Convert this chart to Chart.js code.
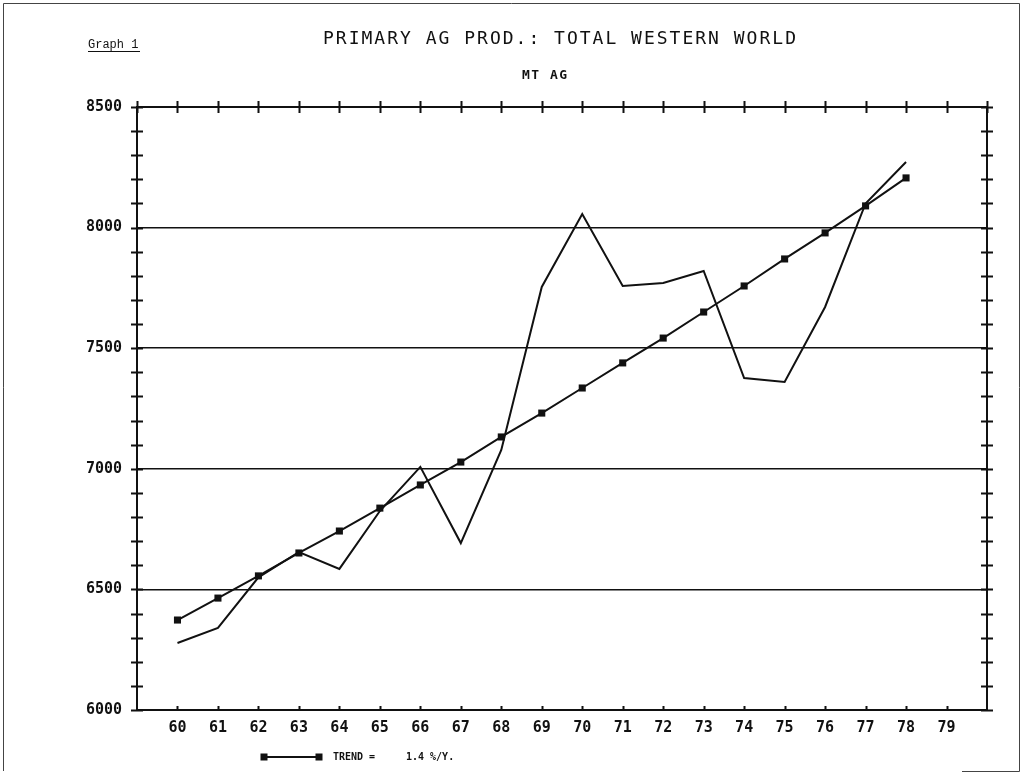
<!DOCTYPE html>
<html>
<head>
<meta charset="utf-8">
<title>Primary Ag Prod.: Total Western World</title>
<script src="https://cdn.jsdelivr.net/npm/chart.js@4/dist/chart.umd.min.js"></script>
<style>
  html, body { margin: 0; padding: 0; background: #ffffff; }
  #wrap { width: 1023px; height: 776px; position: relative; }
  canvas { display: block; }
</style>
</head>
<body>
<div id="wrap"><canvas id="chart" width="1023" height="776"></canvas></div>
<script>
// Years (19xx) and production in metric tonnes of silver
const years = [60, 61, 62, 63, 64, 65, 66, 67, 68, 69, 70, 71, 72, 73, 74, 75, 76, 77, 78];
const production = [6278, 6340, 6550, 6655, 6585, 6825, 7008, 6692, 7078, 7754, 8056, 7758, 7770, 7820, 7376, 7360, 7671, 8100, 8272];
const trend = [6373, 6464, 6556, 6651, 6742, 6837, 6933, 7028, 7132, 7231, 7335, 7439, 7542, 7650, 7758, 7870, 7978, 8090, 8206];
const yearTicks = [60, 61, 62, 63, 64, 65, 66, 67, 68, 69, 70, 71, 72, 73, 74, 75, 76, 77, 78, 79];
const valueTicks = [6000, 6500, 7000, 7500, 8000, 8500];

const titleText = 'PRIMARY AG PROD.: TOTAL WESTERN WORLD';
const subtitleText = 'MT AG';
const graphLabel = 'Graph 1';
const legendName = 'TREND =';
const legendRate = '1.4 %/Y.';

const INK = '#111111';
const TICK_FONT = { family: '"DejaVu Sans Mono", monospace', size: 15, weight: 'bold' };

// Plotter-style decorations: crossing tick marks, headings, legend, page frame
const plotterMarks = {
  id: 'plotterMarks',
  afterDraw(chart) {
    const ctx = chart.ctx;
    const xs = chart.scales.x, ys = chart.scales.y;
    const ca = chart.chartArea;
    ctx.save();
    ctx.strokeStyle = INK;
    ctx.fillStyle = INK;
    ctx.lineWidth = 2;

    // year ticks along top (crossing) and bottom (inside)
    ctx.beginPath();
    for (let v = xs.min; v <= xs.max; v++) {
      const px = Math.round(xs.getPixelForValue(v)) + 0.5;
      ctx.moveTo(px, ca.top - 6); ctx.lineTo(px, ca.top + 6);
      if (v > xs.min && v < xs.max) { ctx.moveTo(px, ca.bottom - 4); ctx.lineTo(px, ca.bottom); }
    }
    // value ticks every 100 on both side axes
    for (let v = ys.min; v <= ys.max; v += 100) {
      const py = Math.round(ys.getPixelForValue(v)) + 0.5;
      ctx.moveTo(ca.left - 6, py); ctx.lineTo(ca.left + 6, py);
      ctx.moveTo(ca.right - 6, py); ctx.lineTo(ca.right + 6, py);
    }
    ctx.stroke();

    // headings
    ctx.textBaseline = 'alphabetic';
    ctx.textAlign = 'left';
    ctx.font = '18px "DejaVu Sans Mono", monospace';
    ctx.letterSpacing = '2px';
    ctx.fillText(titleText, 323, 44);
    ctx.font = 'bold 13px "DejaVu Sans Mono", monospace';
    ctx.letterSpacing = '1.5px';
    ctx.fillText(subtitleText, 522, 79);
    ctx.letterSpacing = '0px';
    ctx.font = '12px "Liberation Mono", monospace';
    ctx.fillText(graphLabel, 88, 48);
    ctx.lineWidth = 1;
    ctx.beginPath();
    ctx.moveTo(88, 51.5); ctx.lineTo(140, 51.5);
    ctx.stroke();

    // legend: trend line sample with square markers
    ctx.lineWidth = 2;
    ctx.beginPath();
    ctx.moveTo(264, 757); ctx.lineTo(319, 757);
    ctx.stroke();
    ctx.fillRect(260.5, 753.5, 7, 7);
    ctx.fillRect(315.5, 753.5, 7, 7);
    ctx.font = 'bold 10px "DejaVu Sans Mono", monospace';
    ctx.textBaseline = 'middle';
    ctx.fillText(legendName, 333, 757);
    ctx.fillText(legendRate, 406, 757);

    // page frame
    ctx.strokeStyle = '#444444';
    ctx.lineWidth = 1;
    ctx.beginPath();
    ctx.moveTo(3.5, 771); ctx.lineTo(3.5, 3.5); ctx.lineTo(1019.5, 3.5); ctx.lineTo(1019.5, 771.5);
    ctx.lineTo(962, 771.5);
    ctx.stroke();
    ctx.restore();
  }
};

new Chart(document.getElementById('chart'), {
  type: 'line',
  data: {
    datasets: [
      {
        label: 'Production',
        data: years.map((x, i) => ({ x, y: production[i] })),
        borderColor: INK,
        borderWidth: 2,
        pointRadius: 0,
        tension: 0,
        fill: false
      },
      {
        label: 'Trend',
        data: years.map((x, i) => ({ x, y: trend[i] })),
        borderColor: INK,
        borderWidth: 2,
        pointStyle: 'rect',
        pointRadius: 5,
        pointBackgroundColor: INK,
        pointBorderColor: INK,
        pointBorderWidth: 0,
        tension: 0,
        fill: false
      }
    ]
  },
  options: {
    responsive: false,
    animation: false,
    events: [],
    layout: { padding: { left: 77, right: 36, top: 107, bottom: 26 } },
    plugins: { legend: { display: false }, tooltip: { enabled: false }, title: { display: false } },
    scales: {
      x: {
        type: 'linear',
        position: 'bottom',
        min: 59,
        max: 80,
        afterFit: s => { s.height = 40; },
        afterBuildTicks: s => { s.ticks = yearTicks.map(v => ({ value: v })); },
        ticks: {
          autoSkip: false,
          maxRotation: 0,
          color: INK,
          font: TICK_FONT,
          padding: 9,
          callback: v => String(v)
        },
        grid: { display: false, drawTicks: false },
        border: { display: true, color: INK, width: 2 }
      },
      y: {
        type: 'linear',
        position: 'left',
        min: 6000,
        max: 8500,
        afterFit: s => { s.width = 60; },
        afterBuildTicks: s => { s.ticks = valueTicks.map(v => ({ value: v })); },
        ticks: {
          autoSkip: false,
          color: INK,
          font: TICK_FONT,
          padding: 15,
          callback: v => String(v)
        },
        grid: {
          drawTicks: false,
          color: c => (c.tick && c.tick.value > 6000) ? INK : 'rgba(0,0,0,0)',
          lineWidth: c => (c.tick && c.tick.value === 8500) ? 2 : 1.5
        },
        border: { display: true, color: INK, width: 2 }
      },
      y2: {
        type: 'linear',
        position: 'right',
        min: 6000,
        max: 8500,
        afterFit: s => { s.width = 0; },
        ticks: { display: false },
        grid: { display: false, drawTicks: false },
        border: { display: true, color: INK, width: 2 }
      }
    }
  },
  plugins: [plotterMarks]
});
</script>
</body>
</html>
